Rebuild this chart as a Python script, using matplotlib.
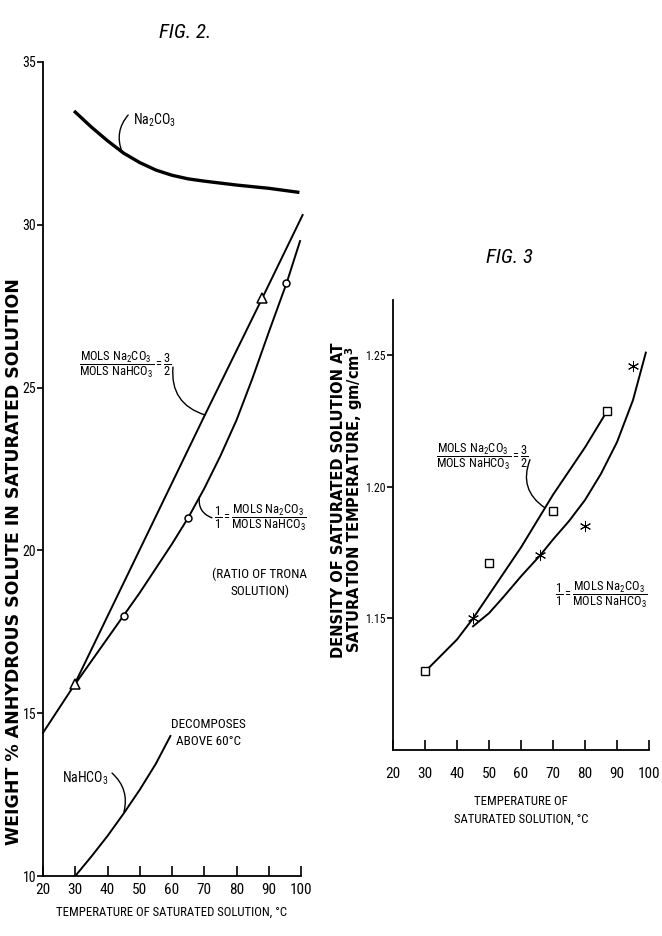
import numpy as np
import matplotlib
matplotlib.use('Agg')
import matplotlib.pyplot as plt
from matplotlib import font_manager as fm


def pick_font(names):
    for n in names:
        try:
            fm.findfont(fm.FontProperties(family=n), fallback_to_default=False)
            return n
        except ValueError:
            pass
    return 'DejaVu Sans'


NARROW = pick_font(['Liberation Sans Narrow', 'DejaVu Sans Condensed',
                    'Roboto Condensed', 'Open Sans Condensed', 'Liberation Sans'])

plt.rcParams.update({
    'font.family': [NARROW, 'DejaVu Sans'],
    'mathtext.fontset': 'custom',
    'mathtext.rm': NARROW,
    'mathtext.it': NARROW + ':italic',
    'mathtext.default': 'regular',
    'axes.linewidth': 1.3,
})

# ---- FIG. 2 data: weight % anhydrous solute vs temperature ----
na2co3_t = [30, 35, 40, 45, 50, 55, 60, 65, 70, 80, 90, 99]
na2co3_w = [33.46, 33.0, 32.58, 32.2, 31.91, 31.68, 31.52, 31.41, 31.34, 31.22, 31.12, 31.0]

ratio32_t = [20, 29.6, 70.2, 88, 100.5]
ratio32_w = [14.4, 15.85, 24.16, 27.75, 30.3]
ratio32_pts_t = [30, 88]
ratio32_pts_w = [15.9, 27.75]

trona_t = [30, 35, 40, 45, 50, 55, 60, 65, 70, 75, 80, 85, 90, 95.5, 99.7]
trona_w = [15.9, 16.6, 17.3, 18.0, 18.7, 19.45, 20.2, 21.0, 21.9, 22.9, 24.0, 25.3, 26.7, 28.2, 29.5]
trona_pts_t = [45, 65, 95.5]
trona_pts_w = [18.0, 21.0, 28.2]

nahco3_t = [30, 35, 40, 45, 50, 55, 59.5]
nahco3_w = [10.0, 10.6, 11.23, 11.92, 12.65, 13.45, 14.3]

# ---- FIG. 3 data: density of saturated solution ----
d32_t = [31, 40, 45, 50, 60, 70, 80, 86.5]
d32_d = [1.131, 1.142, 1.150, 1.159, 1.177, 1.197, 1.215, 1.228]
d32_pts_t = [30, 50, 70, 87]
d32_pts_d = [1.130, 1.171, 1.191, 1.229]

d11_t = [45, 50, 54.4, 60, 66, 70, 75, 80, 85, 90, 95, 99]
d11_d = [1.147, 1.152, 1.158, 1.166, 1.174, 1.180, 1.187, 1.195, 1.205, 1.217, 1.233, 1.251]
d11_pts_t = [45, 66, 80, 95]
d11_pts_d = [1.150, 1.174, 1.185, 1.246]

xticks = [20, 30, 40, 50, 60, 70, 80, 90, 100]
fig2_yticks = [10, 15, 20, 25, 30, 35]
fig3_yticks = [1.15, 1.20, 1.25]
fig3_yticklabels = ['1.15', '1.20', '1.25']

FRAC_A = r'$\dfrac{MOLS\ Na_2CO_3}{MOLS\ NaHCO_3}=\dfrac{3}{2}$'
FRAC_B = r'$\dfrac{1}{1}=\dfrac{MOLS\ Na_2CO_3}{MOLS\ NaHCO_3}$'

fig = plt.figure(figsize=(6.62, 9.36), dpi=100)
ax2 = fig.add_axes([0.065, 0.0641, 0.3897, 0.8697])
ax3 = fig.add_axes([0.5937, 0.1987, 0.3867, 0.4808])


def style(ax, xpad, ysize):
    for s in ('top', 'right'):
        ax.spines[s].set_visible(False)
    ax.set_xticks(xticks)
    ax.tick_params(axis='x', direction='in', length=7, width=1.2, pad=xpad, labelsize=11)
    ax.tick_params(axis='y', direction='out', length=4, width=1.2, pad=1, labelsize=ysize)


def leader(ax, p_from, p_to, rad):
    ax.annotate('', xy=p_to, xytext=p_from,
                arrowprops=dict(arrowstyle='-', lw=1.0, color='black',
                                shrinkA=0, shrinkB=0,
                                connectionstyle='arc3,rad=%s' % rad))


# ---------------- FIG. 2 ----------------
style(ax2, 5, 10)
ax2.set_xlim(20, 100)
ax2.set_ylim(10, 35)
ax2.set_yticks(fig2_yticks)

ax2.plot(na2co3_t, na2co3_w, color='black', lw=2.4)
ax2.plot(ratio32_t, ratio32_w, color='black', lw=1.4, clip_on=False)
ax2.plot(trona_t, trona_w, color='black', lw=1.4, clip_on=False)
ax2.plot(nahco3_t, nahco3_w, color='black', lw=1.4)
ax2.plot(ratio32_pts_t, ratio32_pts_w, '^', ms=7, mfc='white', mec='black', mew=1.1)
ax2.plot(trona_pts_t, trona_pts_w, 'o', ms=5, mfc='white', mec='black', mew=1.1)

ax2.text(47.9, 33.2, r'Na$_2$CO$_3$', fontsize=10, ha='left', va='center')
leader(ax2, (46.4, 33.37), (44.5, 32.24), 0.3)

ax2.text(45.4, 25.7, FRAC_A, fontsize=9, ha='center', va='center')
leader(ax2, (60.3, 25.63), (70.2, 24.16), 0.4)

ax2.text(87.3, 21.0, FRAC_B, fontsize=9, ha='center', va='center')
leader(ax2, (72.4, 21.0), (68.5, 21.65), -0.4)

ax2.text(87.2, 19.0, '(RATIO OF TRONA\nSOLUTION)', fontsize=9.5, ha='center', va='center',
         linespacing=1.4)
ax2.text(71.2, 14.4, 'DECOMPOSES\nABOVE 60°C', fontsize=9.5, ha='center', va='center',
         linespacing=1.4)
ax2.text(33.0, 13.0, r'NaHCO$_3$', fontsize=10, ha='center', va='center')
leader(ax2, (41.4, 13.16), (45.1, 11.97), -0.3)

ax2.set_xlabel('TEMPERATURE OF SATURATED SOLUTION, °C', fontsize=9.2, labelpad=6)
ax2.set_ylabel('WEIGHT % ANHYDROUS SOLUTE IN SATURATED SOLUTION',
               fontsize=12.5, family='DejaVu Sans', fontweight='bold')
ax2.yaxis.set_label_coords(-0.078, 0.3864)

# ---------------- FIG. 3 ----------------
style(ax3, 12, 8.5)
ax3.set_xlim(20, 100)
ax3.set_ylim(1.10, 1.271)
ax3.set_yticks(fig3_yticks)
ax3.set_yticklabels(fig3_yticklabels)

ax3.plot(d32_t, d32_d, color='black', lw=1.4)
ax3.plot(d11_t, d11_d, color='black', lw=1.4)
ax3.plot(d32_pts_t, d32_pts_d, 's', ms=6, mfc='white', mec='black', mew=1.0)
ax3.plot(d11_pts_t, d11_pts_d, marker=(6, 2, 0), ls='none', ms=8, mec='black', mew=0.7)

ax3.text(47.9, 1.2115, FRAC_A, fontsize=9, ha='center', va='center')
leader(ax3, (62.8, 1.2103), (67.5, 1.192), 0.4)
ax3.text(85.0, 1.1588, FRAC_B, fontsize=9, ha='center', va='center')

ax3.set_xlabel('TEMPERATURE OF\nSATURATED SOLUTION, °C', fontsize=9.2, labelpad=10,
               linespacing=1.5)
ax3.text(-0.175, 0.555,
         'DENSITY OF SATURATED SOLUTION AT\nSATURATION TEMPERATURE, gm/cm$^3$',
         transform=ax3.transAxes, rotation=90, ha='center', va='center',
         multialignment='center', linespacing=0.85, fontsize=10.5,
         family='DejaVu Sans', fontweight='bold', math_fontfamily='dejavusans')

fig.text(0.2795, 0.9658, 'FIG. 2.', fontsize=15, style='italic', ha='center', va='center')
fig.text(0.770, 0.7254, 'FIG. 3', fontsize=15, style='italic', ha='center', va='center')

fig.savefig('out.png', dpi=100, facecolor='white')
